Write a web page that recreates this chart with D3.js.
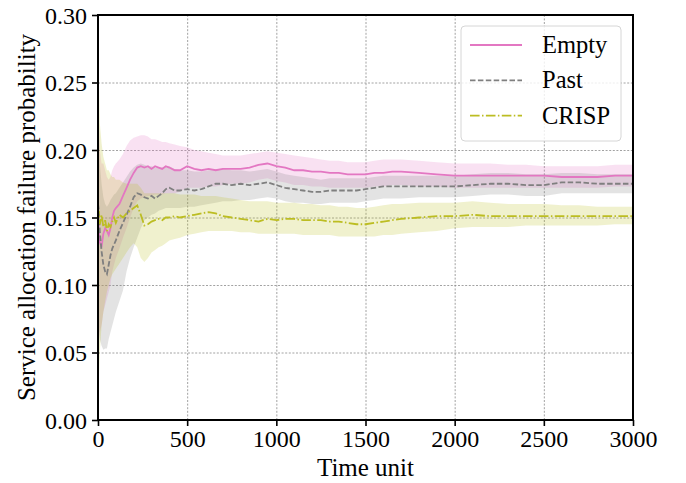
<!DOCTYPE html>
<html>
<head>
<meta charset="utf-8">
<script src="https://cdn.jsdelivr.net/npm/d3@7"></script>
<style>
  body { margin: 0; background: #fff; }
  text { font-family: "Liberation Serif", "Times New Roman", serif; }
  .grid line { stroke: #8a8a8a; stroke-width: 0.8; stroke-dasharray: 2,1.6; }
  .grid path { display: none; }
  .axis path, .axis line { stroke: #000; }
</style>
</head>
<body>
<div id="chart"></div>
<script>
// time samples
var times = [0, 5, 10, 20, 30, 40, 50, 60, 70, 80, 90, 100, 120, 140, 160, 180, 200, 220, 240, 260, 280, 300,
  320, 340, 360, 380, 400, 430, 460, 500, 540, 580, 620, 660, 700, 750, 800, 850, 900, 950, 1000, 1050, 1100,
  1150, 1200, 1250, 1300, 1350, 1400, 1450, 1500, 1550, 1600, 1650, 1700, 1800, 1900, 2000, 2100, 2200, 2300,
  2400, 2500, 2600, 2700, 2800, 2900, 3000];

// Empty
var emptyMean = [0.150, 0.140, 0.132, 0.128, 0.138, 0.142, 0.140, 0.137, 0.142, 0.150, 0.155, 0.157, 0.160, 0.166,
  0.172, 0.178, 0.183, 0.187, 0.188, 0.187, 0.188, 0.186, 0.188, 0.187, 0.186, 0.188, 0.187, 0.185, 0.185, 0.188,
  0.186, 0.185, 0.186, 0.185, 0.186, 0.186, 0.186, 0.187, 0.189, 0.190, 0.188, 0.187, 0.185, 0.185, 0.184, 0.184,
  0.183, 0.183, 0.182, 0.182, 0.182, 0.183, 0.183, 0.184, 0.184, 0.183, 0.182, 0.181, 0.181, 0.181, 0.181, 0.181,
  0.181, 0.180, 0.180, 0.180, 0.181, 0.181];
var emptyHi = [0.240, 0.220, 0.200, 0.190, 0.190, 0.185, 0.180, 0.178, 0.180, 0.185, 0.188, 0.190, 0.193, 0.197,
  0.203, 0.207, 0.209, 0.210, 0.211, 0.211, 0.210, 0.208, 0.208, 0.207, 0.206, 0.206, 0.205, 0.204, 0.203, 0.202,
  0.200, 0.199, 0.198, 0.197, 0.196, 0.196, 0.196, 0.197, 0.198, 0.199, 0.198, 0.197, 0.196, 0.195, 0.194, 0.193,
  0.192, 0.192, 0.191, 0.191, 0.191, 0.192, 0.193, 0.193, 0.193, 0.192, 0.191, 0.190, 0.190, 0.190, 0.189, 0.189,
  0.188, 0.188, 0.188, 0.188, 0.189, 0.189];
var emptyLo = [0.060, 0.060, 0.065, 0.070, 0.080, 0.085, 0.090, 0.095, 0.100, 0.110, 0.115, 0.120, 0.127, 0.135,
  0.142, 0.150, 0.157, 0.162, 0.164, 0.165, 0.166, 0.166, 0.167, 0.167, 0.167, 0.168, 0.168, 0.168, 0.169, 0.172,
  0.172, 0.172, 0.173, 0.173, 0.174, 0.175, 0.175, 0.176, 0.178, 0.179, 0.177, 0.176, 0.174, 0.174, 0.173, 0.173,
  0.172, 0.172, 0.172, 0.172, 0.172, 0.173, 0.173, 0.174, 0.174, 0.173, 0.173, 0.172, 0.172, 0.172, 0.172, 0.172,
  0.172, 0.172, 0.172, 0.172, 0.173, 0.173];

// Past
var pastMean = [0.160, 0.155, 0.140, 0.125, 0.115, 0.110, 0.108, 0.115, 0.122, 0.127, 0.130, 0.133, 0.140, 0.146,
  0.152, 0.158, 0.165, 0.168, 0.167, 0.165, 0.164, 0.166, 0.164, 0.166, 0.168, 0.171, 0.172, 0.170, 0.170, 0.171,
  0.170, 0.171, 0.173, 0.175, 0.175, 0.174, 0.175, 0.174, 0.175, 0.176, 0.174, 0.172, 0.171, 0.170, 0.169, 0.169,
  0.170, 0.170, 0.170, 0.170, 0.171, 0.172, 0.173, 0.173, 0.173, 0.173, 0.173, 0.173, 0.174, 0.175, 0.175, 0.174,
  0.174, 0.176, 0.176, 0.175, 0.175, 0.175];
var pastHi = [0.220, 0.210, 0.190, 0.175, 0.165, 0.160, 0.158, 0.160, 0.163, 0.165, 0.167, 0.168, 0.172, 0.176,
  0.180, 0.184, 0.187, 0.189, 0.190, 0.189, 0.188, 0.188, 0.187, 0.187, 0.187, 0.188, 0.188, 0.186, 0.185, 0.185,
  0.184, 0.184, 0.185, 0.186, 0.186, 0.185, 0.185, 0.184, 0.185, 0.186, 0.184, 0.182, 0.181, 0.180, 0.179, 0.178,
  0.179, 0.179, 0.179, 0.179, 0.179, 0.180, 0.181, 0.181, 0.181, 0.181, 0.181, 0.181, 0.182, 0.183, 0.183, 0.182,
  0.182, 0.183, 0.183, 0.182, 0.182, 0.182];
var pastLo = [0.080, 0.070, 0.060, 0.055, 0.052, 0.053, 0.053, 0.060, 0.065, 0.070, 0.075, 0.080, 0.088, 0.096,
  0.110, 0.120, 0.128, 0.135, 0.142, 0.148, 0.150, 0.152, 0.153, 0.155, 0.156, 0.157, 0.157, 0.157, 0.157, 0.158,
  0.158, 0.159, 0.160, 0.161, 0.162, 0.162, 0.163, 0.163, 0.164, 0.165, 0.164, 0.162, 0.161, 0.161, 0.160, 0.160,
  0.161, 0.161, 0.161, 0.161, 0.162, 0.163, 0.164, 0.164, 0.164, 0.165, 0.165, 0.165, 0.166, 0.167, 0.167, 0.166,
  0.166, 0.168, 0.168, 0.168, 0.168, 0.168];

// CRISP
var crispMean = [0.150, 0.155, 0.145, 0.152, 0.143, 0.148, 0.140, 0.145, 0.143, 0.147, 0.150, 0.146, 0.152, 0.150,
  0.153, 0.155, 0.157, 0.159, 0.152, 0.144, 0.145, 0.147, 0.148, 0.149, 0.148, 0.150, 0.150, 0.151, 0.150, 0.151,
  0.152, 0.153, 0.154, 0.153, 0.151, 0.150, 0.149, 0.148, 0.147, 0.149, 0.148, 0.149, 0.149, 0.148, 0.148, 0.148,
  0.147, 0.147, 0.146, 0.145, 0.145, 0.146, 0.147, 0.148, 0.149, 0.150, 0.151, 0.151, 0.152, 0.151, 0.151, 0.151,
  0.151, 0.151, 0.151, 0.151, 0.151, 0.151];
var crispHi = [0.270, 0.250, 0.220, 0.205, 0.195, 0.190, 0.185, 0.185, 0.182, 0.180, 0.180, 0.178, 0.178, 0.176,
  0.175, 0.175, 0.175, 0.175, 0.172, 0.168, 0.168, 0.168, 0.168, 0.168, 0.168, 0.168, 0.168, 0.168, 0.167, 0.167,
  0.167, 0.166, 0.166, 0.166, 0.165, 0.164, 0.163, 0.162, 0.162, 0.162, 0.161, 0.161, 0.161, 0.160, 0.160, 0.159,
  0.159, 0.158, 0.158, 0.157, 0.157, 0.158, 0.159, 0.160, 0.160, 0.161, 0.161, 0.161, 0.162, 0.161, 0.160, 0.160,
  0.160, 0.159, 0.159, 0.158, 0.158, 0.158];
var crispLo = [0.020, 0.030, 0.050, 0.070, 0.080, 0.088, 0.095, 0.100, 0.105, 0.108, 0.110, 0.112, 0.116, 0.120,
  0.124, 0.128, 0.131, 0.128, 0.120, 0.117, 0.120, 0.124, 0.126, 0.128, 0.129, 0.131, 0.133, 0.134, 0.135, 0.137,
  0.138, 0.139, 0.140, 0.140, 0.140, 0.140, 0.139, 0.139, 0.138, 0.138, 0.138, 0.138, 0.138, 0.137, 0.137, 0.137,
  0.137, 0.136, 0.136, 0.136, 0.136, 0.136, 0.137, 0.137, 0.138, 0.139, 0.140, 0.142, 0.143, 0.143, 0.143, 0.144,
  0.144, 0.144, 0.144, 0.144, 0.145, 0.145];

var seriesNames = ["Empty", "Past", "CRISP"];
var xTicks = [0, 500, 1000, 1500, 2000, 2500, 3000];
var yTicks = [0.00, 0.05, 0.10, 0.15, 0.20, 0.25, 0.30];

var margin = {top: 15, right: 53, bottom: 63, left: 98};
var width = 686, height = 483;
var w = width - margin.left - margin.right,
    h = height - margin.top - margin.bottom;

var series = [
  {name: seriesNames[0], mean: emptyMean, lo: emptyLo, hi: emptyHi, color: "#e377c2", dash: null},
  {name: seriesNames[1], mean: pastMean, lo: pastLo, hi: pastHi, color: "#7f7f7f", dash: "5.5,2.4"},
  {name: seriesNames[2], mean: crispMean, lo: crispLo, hi: crispHi, color: "#bcbd22", dash: "9.6,2.4,1.5,2.4"}
];

var svg = d3.select("#chart").append("svg")
    .attr("width", width)
    .attr("height", height);

var g = svg.append("g")
    .attr("transform", "translate(" + margin.left + "," + margin.top + ")");

var xScale = d3.scaleLinear().domain([0, 3000]).range([0, w]);
var yScale = d3.scaleLinear().domain([0, 0.30]).range([h, 0]);

// grid
g.append("g")
    .attr("class", "grid")
    .attr("transform", "translate(0," + h + ")")
    .call(d3.axisBottom(xScale).tickValues(xTicks).tickSize(-h).tickFormat(""));
g.append("g")
    .attr("class", "grid")
    .call(d3.axisLeft(yScale).tickValues(yTicks).tickSize(-w).tickFormat(""));

g.append("defs").append("clipPath")
    .attr("id", "clip")
    .append("rect")
    .attr("width", w)
    .attr("height", h);

var plot = g.append("g").attr("clip-path", "url(#clip)");

// bands first, then lines
series.forEach(function(s) {
  var area = d3.area()
      .x(function(d, i) { return xScale(times[i]); })
      .y0(function(d, i) { return yScale(s.lo[i]); })
      .y1(function(d, i) { return yScale(s.hi[i]); });
  plot.append("path")
      .datum(s.mean)
      .attr("fill", s.color)
      .attr("fill-opacity", 0.22)
      .attr("d", area);
});

series.forEach(function(s) {
  var line = d3.line()
      .x(function(d, i) { return xScale(times[i]); })
      .y(function(d) { return yScale(d); });
  plot.append("path")
      .datum(s.mean)
      .attr("fill", "none")
      .attr("stroke", s.color)
      .attr("stroke-width", 1.8)
      .attr("stroke-dasharray", s.dash)
      .attr("d", line);
});

// axes
var xAxis = d3.axisBottom(xScale).tickValues(xTicks).tickSize(6).tickPadding(4).tickFormat(d3.format("d"));
var yAxis = d3.axisLeft(yScale).tickValues(yTicks).tickSize(6).tickPadding(5).tickFormat(d3.format(".2f"));

var gx = g.append("g")
    .attr("class", "axis")
    .attr("transform", "translate(0," + h + ")")
    .call(xAxis);
var gy = g.append("g")
    .attr("class", "axis")
    .call(yAxis);

[gx, gy].forEach(function(a) {
  a.select(".domain").remove();
  a.selectAll(".tick line").attr("stroke-width", 1.6);
  a.selectAll(".tick text")
      .attr("fill", "#000")
      .style("font-size", "24px")
      .style("font-family", "'Liberation Serif', serif");
});
gx.selectAll(".tick text").attr("dy", "0.72em");
gy.selectAll(".tick text").attr("dy", "0.34em");

// frame
g.append("rect")
    .attr("width", w)
    .attr("height", h)
    .attr("fill", "none")
    .attr("stroke", "#000")
    .attr("stroke-width", 2);

// axis labels
svg.append("text")
    .attr("x", margin.left + w / 2)
    .attr("y", 476)
    .attr("text-anchor", "middle")
    .style("font-size", "25px")
    .text("Time unit");

svg.append("text")
    .attr("transform", "translate(35," + (margin.top + h / 2) + ") rotate(-90)")
    .attr("text-anchor", "middle")
    .style("font-size", "25px")
    .text("Service allocation failure probability");

// legend
var legend = svg.append("g").attr("transform", "translate(461,26)");
legend.append("rect")
    .attr("width", 160)
    .attr("height", 115)
    .attr("rx", 4)
    .attr("fill", "#fff")
    .attr("fill-opacity", 0.8)
    .attr("stroke", "#d6d6d6")
    .attr("stroke-width", 1);

series.forEach(function(s, i) {
  var yy = 19 + i * 35.3;
  legend.append("line")
      .attr("x1", 9).attr("x2", 61)
      .attr("y1", yy).attr("y2", yy)
      .attr("stroke", s.color)
      .attr("stroke-width", 1.8)
      .attr("stroke-dasharray", s.dash);
  legend.append("text")
      .attr("x", 81)
      .attr("y", yy + 8)
      .style("font-size", "24.5px")
      .text(s.name);
});
</script>
</body>
</html>
